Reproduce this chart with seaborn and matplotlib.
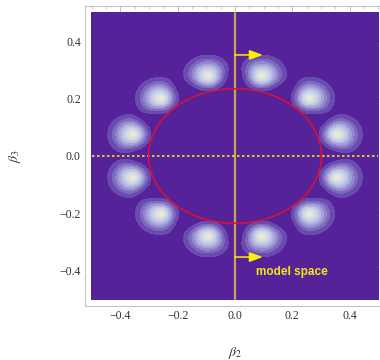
import numpy as np
import pandas as pd
import matplotlib
matplotlib.use("Agg")
import matplotlib.pyplot as plt
from matplotlib.ticker import MultipleLocator
import seaborn as sns

# Peak positions (beta2, beta3) of the twelve probability lobes
peak_b2 = [0.094, 0.260, 0.357, 0.357, 0.260, 0.094,
           -0.094, -0.260, -0.357, -0.357, -0.260, -0.094]
peak_b3 = [0.280, 0.202, 0.075, -0.075, -0.202, -0.280,
           -0.280, -0.202, -0.075, 0.075, 0.202, 0.280]

# Red reference ellipse semi-axes (beta2, beta3)
ellipse_axes = [0.302, 0.235]

# Arrow rows and label
arrow_b3 = [0.353, -0.353]
arrow_len = 0.097
label_text = "model space"
label_pos = [0.20, -0.405]

tick_values = [-0.4, -0.2, 0.0, 0.2, 0.4]

sns.set_style("white")
plt.rcParams["mathtext.fontset"] = "stix"
plt.rcParams["font.family"] = ["Liberation Serif", "DejaVu Serif"]

fig = plt.figure(figsize=(3.8, 3.6), dpi=100)
ax = fig.add_axes([85 / 380, 54 / 360, 300 / 380, 300 / 360])
ax.set_facecolor("white")

# Lobe density on the model grid: tapered profile, stretched outward
g = np.linspace(-0.5, 0.5, 501)
X, Y = np.meshgrid(g, g)
Z = np.zeros_like(X)
half_w, half_h, skew = 0.076, 0.063, 0.17
for cx, cy in zip(peak_b2, peak_b3):
    r = np.hypot(cx, cy)
    ux, uy = cx / r, cy / r
    dx, dy = X - cx, Y - cy
    u = dx * ux + dy * uy
    fac = 1 + skew * np.tanh(u / 0.025)
    d = np.sqrt((dx / (half_w * fac)) ** 2 + (dy / (half_h * fac)) ** 2)
    Z = np.maximum(Z, np.clip(1 - d, 0, 1) ** 1.5)

band_colors = ["#55229A", "#6A4CB0", "#7E6BC0", "#9388CE", "#A6A3DA",
               "#B6B9E1", "#C3CAE5", "#CDD6E5", "#D8DEE1", "#E3E4DA", "#EEE7D2"]
levels = np.concatenate([[-0.01], np.linspace(0.0, 1.0, 11)[:-1] + 0.004, [1.01]])
cs = ax.contourf(X, Y, Z, levels=levels, colors=band_colors, zorder=1)
cs.set_edgecolor("face")
cs.set_linewidth(0.4)

# Axes lines through the origin
axis_df = pd.DataFrame({"b2": [0.0, 0.0], "b3": [-0.5, 0.5]})
sns.lineplot(data=axis_df, x="b2", y="b3", color="#C9A552", lw=1.6,
             sort=False, estimator=None, ax=ax, zorder=3)
ax.plot([-0.5, 0.5], [0, 0], color="#F2E61C", lw=1.2, ls=(0, (1.5, 1.5)), zorder=3)

# Reference ellipse
t = np.linspace(0, 2 * np.pi, 361)
ell_df = pd.DataFrame({"b2": ellipse_axes[0] * np.cos(t), "b3": ellipse_axes[1] * np.sin(t)})
sns.lineplot(data=ell_df, x="b2", y="b3", color="#E0102C", lw=1.1,
             sort=False, estimator=None, ax=ax, zorder=4)

# Arrows and annotation
for yv in arrow_b3:
    ax.annotate("", xy=(arrow_len, yv), xytext=(0.0, yv),
                arrowprops=dict(arrowstyle="-|>,head_length=0.8,head_width=0.3",
                                color="#FFEE00", lw=1.1, shrinkA=0, shrinkB=0),
                zorder=5)
ax.text(label_pos[0], label_pos[1], label_text, color="#F5E61A", fontsize=8.5,
        fontweight="bold", family="Liberation Sans", ha="center", va="center", zorder=5)

lim = 0.524
ax.set_xlim(-lim, lim)
ax.set_ylim(-lim, lim)
ax.set_xticks(tick_values)
ax.set_yticks(tick_values)
ax.set_xticklabels([f"{v:.1f}".replace("-", "\u2212") for v in tick_values])
ax.set_yticklabels([f"{v:.1f}".replace("-", "\u2212") for v in tick_values])
ax.xaxis.set_minor_locator(MultipleLocator(0.05))
ax.yaxis.set_minor_locator(MultipleLocator(0.05))
ax.tick_params(which="both", direction="in", top=True, right=True,
               colors="#B8B8B8", labelcolor="#333333", labelsize=8.5)
ax.tick_params(which="major", length=4, width=0.6, pad=3)
ax.tick_params(which="minor", length=2, width=0.5)
for s in ax.spines.values():
    s.set_color("#C4C4C4")
    s.set_linewidth(0.8)

ax.set_xlabel(r"$\beta_2$", fontsize=10, color="#333333", va="center")
ax.set_ylabel(r"$\beta_3$", fontsize=10, color="#333333", va="center")
ax.xaxis.set_label_coords(150 / 300, -47 / 300)
ax.yaxis.set_label_coords(-70 / 300, 150 / 300)

fig.savefig("out.png", dpi=100)
